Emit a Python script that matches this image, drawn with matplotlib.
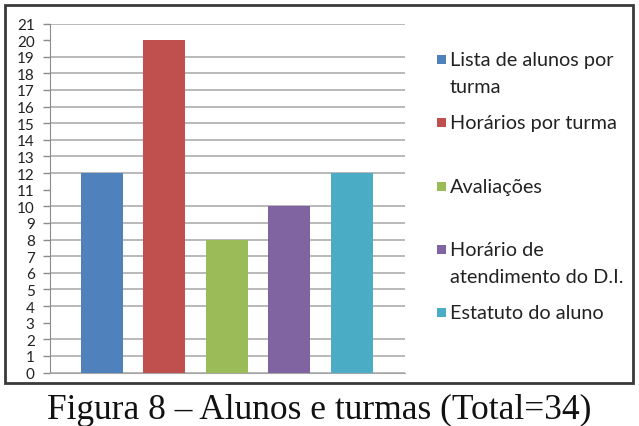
import matplotlib
matplotlib.use("Agg")
import matplotlib.pyplot as plt
import matplotlib.patches as mpatches

# data
labels = ["Lista de alunos por\nturma", "Horários por turma", "Avaliações",
          "Horário de\natendimento do D.I.", "Estatuto do aluno"]
values = [12, 20, 8, 10, 12]
colors = ["#4F81BD", "#C0504D", "#9BBB59", "#8064A2", "#4BACC6"]
yticks = list(range(0, 22))
caption = "Figura 8 – Alunos e turmas (Total=34)"

W, H = 639, 427
fig = plt.figure(figsize=(W / 100, H / 100), dpi=100)
fig.patch.set_facecolor("white")

# outer chart frame
frame = mpatches.Rectangle((4.5 / W, 1 - 384 / H), (633 - 4.5) / W, (384 - 6) / H,
                           transform=fig.transFigure, fill=False,
                           edgecolor="#3a3a3a", linewidth=2.0)
fig.patches.append(frame)

ax = fig.add_axes([50 / W, 1 - 373.5 / H, 355 / W, 349 / H])
x = list(range(len(values)))
ax.bar(x, values, width=0.672, color=colors, zorder=3)
ax.set_xlim(-0.824, 4.856)
ax.set_ylim(0, 21)
ax.set_yticks(yticks)
ax.set_yticklabels([str(t) for t in yticks], fontfamily="Lato", fontsize=11, color="#222222")
ax.tick_params(axis="y", length=5, width=1, color="#8c8c8c", pad=6)
ax.set_xticks([])

ax.yaxis.grid(True, color="#a6a6a6", linewidth=1.1, zorder=0)
# scan lost a few gridlines in the original
for t, gl in zip(yticks, ax.get_ygridlines()):
    if t in (3, 11, 20):
        gl.set_visible(False)

for s in ("top", "right"):
    ax.spines[s].set_visible(False)
ax.spines["left"].set_color("#8c8c8c")
ax.spines["bottom"].set_color("#a6a6a6")

# legend drawn by hand so entries line up like the original
y0, step = 60.5, 63.3
for i, (lab, c) in enumerate(zip(labels, colors)):
    yc = y0 + step * i
    sq = mpatches.Rectangle((436.5 / W, 1 - (yc + 4.5) / H), 9 / W, 9 / H,
                            transform=fig.transFigure, facecolor=c, edgecolor="none")
    fig.patches.append(sq)
    for j, line in enumerate(lab.split("\n")):
        fig.text(450 / W, 1 - (yc + 27 * j) / H, line, fontfamily="Lato", fontsize=14.3,
                 color="#222222", ha="left", va="center")

fig.text(0.5, 1 - 419 / H, caption, fontfamily="Liberation Serif", fontsize=25.5,
         color="#111111", ha="center", va="baseline")

fig.savefig("out.png", dpi=100)
